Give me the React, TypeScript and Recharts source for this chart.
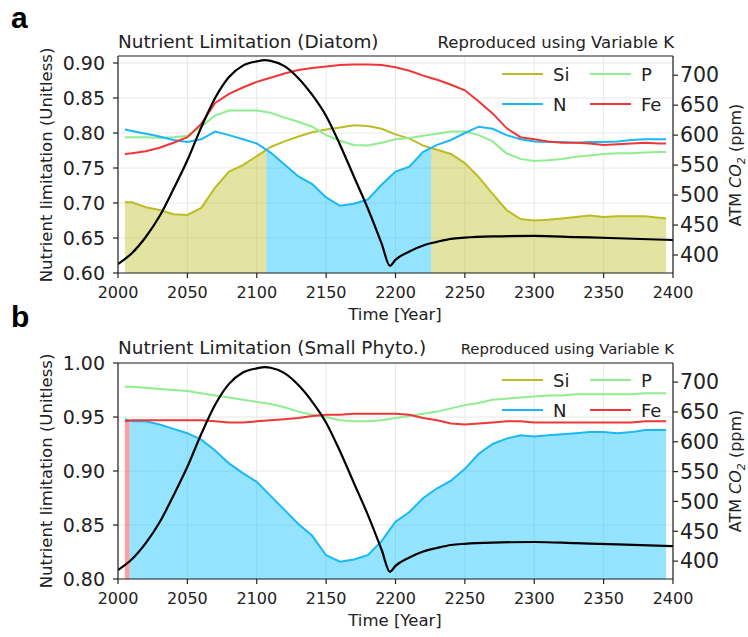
import React from 'react';
import { ComposedChart, Line, Area, XAxis, YAxis, CartesianGrid, ReferenceLine } from 'recharts';

// sample years of the nutrient series (model output starts 2005, ends 2395)
const years = [
  2005, 2010, 2020, 2030, 2040, 2050, 2060, 2070, 2080, 2090, 2100, 2110, 2120, 2130,
  2140, 2150, 2160, 2170, 2180, 2190, 2200, 2210, 2220, 2230, 2240, 2250, 2260, 2270,
  2280, 2290, 2300, 2310, 2320, 2330, 2340, 2350, 2360, 2370, 2380, 2390, 2395,
];

// Diatom
const diatomSi = [
  0.701, 0.701, 0.694, 0.690, 0.684, 0.683, 0.693, 0.722, 0.745, 0.754, 0.767, 0.780, 0.788, 0.795,
  0.801, 0.805, 0.808, 0.811, 0.810, 0.806, 0.798, 0.792, 0.782, 0.776, 0.770, 0.757, 0.737, 0.713,
  0.690, 0.677, 0.675, 0.676, 0.678, 0.680, 0.682, 0.680, 0.681, 0.681, 0.681, 0.679, 0.678,
];
const diatomP = [
  0.794, 0.794, 0.794, 0.793, 0.794, 0.796, 0.809, 0.825, 0.832, 0.832, 0.832, 0.829, 0.822, 0.816,
  0.809, 0.797, 0.789, 0.783, 0.782, 0.786, 0.791, 0.793, 0.796, 0.799, 0.802, 0.802, 0.797, 0.788,
  0.771, 0.763, 0.760, 0.761, 0.763, 0.766, 0.768, 0.770, 0.771, 0.771, 0.772, 0.773, 0.773,
];
const diatomN = [
  0.805, 0.803, 0.799, 0.795, 0.790, 0.787, 0.791, 0.802, 0.797, 0.791, 0.785, 0.772, 0.755, 0.738,
  0.727, 0.708, 0.696, 0.699, 0.705, 0.726, 0.745, 0.752, 0.773, 0.783, 0.790, 0.800, 0.809, 0.806,
  0.797, 0.791, 0.788, 0.787, 0.787, 0.786, 0.787, 0.787, 0.788, 0.790, 0.791, 0.791, 0.791,
];
const diatomFe = [
  0.770, 0.771, 0.774, 0.779, 0.786, 0.794, 0.813, 0.843, 0.856, 0.865, 0.873, 0.879, 0.885, 0.890,
  0.893, 0.895, 0.897, 0.898, 0.898, 0.897, 0.894, 0.889, 0.882, 0.876, 0.869, 0.861, 0.845, 0.828,
  0.807, 0.794, 0.791, 0.788, 0.786, 0.786, 0.785, 0.783, 0.784, 0.785, 0.786, 0.785, 0.785,
];

// Small phytoplankton (no Si limitation)
const smallSi: (number | null)[] = years.map(() => null);
const smallP = [
  0.978, 0.978, 0.977, 0.976, 0.975, 0.974, 0.972, 0.970, 0.968, 0.966, 0.964, 0.962, 0.959, 0.955,
  0.952, 0.950, 0.947, 0.946, 0.946, 0.947, 0.949, 0.951, 0.953, 0.955, 0.958, 0.961, 0.963, 0.966,
  0.967, 0.968, 0.969, 0.970, 0.970, 0.971, 0.971, 0.971, 0.971, 0.971, 0.972, 0.972, 0.972,
];
const smallN = [
  0.948, 0.946, 0.946, 0.943, 0.939, 0.935, 0.929, 0.919, 0.907, 0.898, 0.890, 0.877, 0.864, 0.851,
  0.840, 0.822, 0.816, 0.818, 0.822, 0.835, 0.853, 0.862, 0.875, 0.884, 0.891, 0.902, 0.916, 0.925,
  0.930, 0.933, 0.932, 0.933, 0.934, 0.935, 0.936, 0.936, 0.935, 0.936, 0.938, 0.938, 0.938,
];
const smallFe = [
  0.946, 0.947, 0.947, 0.947, 0.947, 0.947, 0.947, 0.946, 0.945, 0.945, 0.946, 0.947, 0.948, 0.949,
  0.951, 0.952, 0.952, 0.953, 0.953, 0.953, 0.953, 0.952, 0.949, 0.947, 0.944, 0.943, 0.944, 0.945,
  0.946, 0.946, 0.945, 0.945, 0.945, 0.945, 0.945, 0.945, 0.945, 0.945, 0.946, 0.946, 0.946,
];

// atmospheric CO2 (ppm), right axis
const co2Years = [
  2000, 2010, 2020, 2030, 2040, 2050, 2060, 2070, 2080, 2090, 2100, 2106, 2110, 2120, 2130, 2140,
  2150, 2160, 2170, 2180, 2190, 2196, 2200, 2210, 2220, 2230, 2240, 2250, 2270, 2300, 2330, 2360, 2400,
];
const co2Values = [
  385, 403, 430, 465, 510, 558, 613, 662, 697, 716, 723, 725, 724, 715, 695, 667,
  632, 584, 531, 478, 419, 382, 392, 406, 416, 422, 427, 429, 431, 432, 430, 428, 425,
];

const xTicks = [2000, 2050, 2100, 2150, 2200, 2250, 2300, 2350, 2400];
const co2Ticks = [400, 450, 500, 550, 600, 650, 700];

type Key = 'Si' | 'P' | 'N' | 'Fe';
const keys: Key[] = ['Si', 'P', 'N', 'Fe'];
const colors: Record<Key, string> = { Si: '#bcbd22', P: '#90ee90', N: '#1ab8f5', Fe: '#f03636' };
const fillColors: Record<Key, string> = { Si: '#bcbd22', P: '#90ee90', N: '#00bfff', Fe: '#ff1a1a' };

const co2Rows = co2Years.map((year, i) => ({ year, co2: co2Values[i] }));

// rows with the limiting (minimum) nutrient filled; crossing points are inserted
function buildRows(series: Record<Key, (number | null)[]>) {
  const active = keys.filter((k) => series[k].some((v) => v != null));
  const val = (k: Key, i: number) => series[k][i] as number;
  const minKey = (i: number) => active.reduce((b, k) => (val(k, i) < val(b, i) ? k : b), active[0]);
  const rows: any[] = [];
  for (let i = 0; i < years.length; i++) {
    const row: any = { year: years[i] };
    active.forEach((k) => (row[k] = val(k, i)));
    const m = minKey(i);
    row['fill' + m] = val(m, i);
    rows.push(row);
    if (i < years.length - 1) {
      const m2 = minKey(i + 1);
      if (m2 !== m) {
        const d0 = val(m2, i) - val(m, i);
        const d1 = val(m2, i + 1) - val(m, i + 1);
        const t = d0 / (d0 - d1);
        const cross: any = { year: years[i] + t * (years[i + 1] - years[i]) };
        active.forEach((k) => (cross[k] = val(k, i) + t * (val(k, i + 1) - val(k, i))));
        cross['fill' + m] = cross[m];
        cross['fill' + m2] = cross[m];
        rows.push(cross);
      }
    }
  }
  return { rows, active };
}

const diatom = buildRows({ Si: diatomSi, P: diatomP, N: diatomN, Fe: diatomFe });
const small = buildRows({ Si: smallSi, P: smallP, N: smallN, Fe: smallFe });

const font = 'DejaVu Sans, sans-serif';
const ink = '#222';

interface PanelProps {
  top: number;
  height: number;
  data: { rows: any[]; active: Key[] };
  domain: [number, number];
  ticks: number[];
}

const Panel = ({ top, height, data, domain, ticks }: PanelProps) => (
  <div style={{ position: 'absolute', left: 0, top }}>
    <ComposedChart width={748} height={height} data={data.rows} margin={{ top: 56, right: 0, bottom: 17, left: 0 }}>
      <CartesianGrid yAxisId="left" stroke="#e8e8e8" strokeWidth={1} horizontalValues={ticks} verticalValues={xTicks} />
      <XAxis
        dataKey="year"
        type="number"
        domain={[2000, 2400]}
        ticks={xTicks}
        interval={0}
        allowDataOverflow
        height={40}
        tickSize={5}
        tickMargin={9}
        stroke={ink}
        strokeWidth={1.2}
        tick={{ fill: ink, fontSize: 16, fontFamily: font }}
      />
      <YAxis
        yAxisId="left"
        type="number"
        domain={domain}
        ticks={ticks}
        interval={0}
        allowDataOverflow
        width={118}
        tickSize={5}
        tickMargin={8}
        stroke={ink}
        strokeWidth={1.2}
        tickFormatter={(v: number) => v.toFixed(2)}
        tick={{ fill: ink, fontSize: 19, fontFamily: font }}
      />
      <YAxis
        yAxisId="right"
        orientation="right"
        type="number"
        domain={[370, 732]}
        ticks={co2Ticks}
        interval={0}
        allowDataOverflow
        width={75}
        tickSize={5}
        tickMargin={2}
        stroke={ink}
        strokeWidth={1.2}
        tick={{ fill: ink, fontSize: 20.5, fontFamily: font }}
      />
      <ReferenceLine yAxisId="left" y={domain[1]} stroke={ink} strokeWidth={1.2} />
      {data.active.map((k) => (
        <Area
          key={'fill' + k}
          yAxisId="left"
          dataKey={'fill' + k}
          type="linear"
          stroke="none"
          fill={fillColors[k]}
          fillOpacity={0.42}
          baseValue="dataMin"
          isAnimationActive={false}
        />
      ))}
      {data.active.map((k) => (
        <Line
          key={k}
          yAxisId="left"
          dataKey={k}
          type="linear"
          stroke={colors[k]}
          strokeWidth={2}
          dot={false}
          isAnimationActive={false}
        />
      ))}
      <Line
        yAxisId="right"
        data={co2Rows}
        dataKey="co2"
        type="monotone"
        stroke="#000"
        strokeWidth={2.2}
        dot={false}
        isAnimationActive={false}
      />
    </ComposedChart>
  </div>
);

const Legend = ({ y }: { y: number }) => {
  const items: [Key, number, number][] = [
    ['Si', 502, y],
    ['P', 590, y],
    ['N', 502, y + 30],
    ['Fe', 590, y + 30],
  ];
  return (
    <g>
      {items.map(([k, x, yy]) => (
        <g key={k}>
          <line x1={x} x2={x + 41} y1={yy} y2={yy} stroke={colors[k]} strokeWidth={2} />
          <text x={x + 51} y={yy + 6.5} fontSize={18} fontFamily={font} fill={ink}>
            {k}
          </text>
        </g>
      ))}
    </g>
  );
};

const Co2Label = ({ cy }: { cy: number }) => (
  <text transform={`translate(741,${cy}) rotate(-90)`} fontSize={16} fontFamily={font} fill={ink} textAnchor="middle">
    ATM <tspan fontStyle="italic">CO</tspan>
    <tspan fontSize={11} dy={4} fontStyle="italic">2</tspan>
    <tspan dy={-4}> (ppm)</tspan>
  </text>
);

export default function App() {
  return (
    <div style={{ position: 'absolute', left: 0, top: 0, width: 748, height: 637, background: '#fff' }}>
      <Panel top={0} height={330} data={diatom} domain={[0.6, 0.91]} ticks={[0.6, 0.65, 0.7, 0.75, 0.8, 0.85, 0.9]} />
      <Panel top={307} height={329} data={small} domain={[0.8, 1.0]} ticks={[0.8, 0.85, 0.9, 0.95, 1.0]} />
      <svg width={748} height={637} style={{ position: 'absolute', left: 0, top: 0, pointerEvents: 'none' }}>
        <text x={11} y={28} fontSize={30} fontWeight="bold" fontFamily="Liberation Sans, Arial, sans-serif" fill="#000">a</text>
        <text x={11} y={327} fontSize={30} fontWeight="bold" fontFamily="Liberation Sans, Arial, sans-serif" fill="#000">b</text>

        <text x={118} y={48} fontSize={18.4} fontFamily={font} fill={ink}>Nutrient Limitation (Diatom)</text>
        <text x={674} y={48} fontSize={16.5} fontFamily={font} fill={ink} textAnchor="end">Reproduced using Variable K</text>
        <text x={118} y={354} fontSize={18.4} fontFamily={font} fill={ink}>Nutrient Limitation (Small Phyto.)</text>
        <text x={674} y={354} fontSize={14.9} fontFamily={font} fill={ink} textAnchor="end">Reproduced using Variable K</text>

        <text transform="translate(52,165) rotate(-90)" fontSize={16.5} fontFamily={font} fill={ink} textAnchor="middle">Nutrient limitation (Unitless)</text>
        <text transform="translate(52,471) rotate(-90)" fontSize={16.5} fontFamily={font} fill={ink} textAnchor="middle">Nutrient limitation (Unitless)</text>

        <Co2Label cy={165} />
        <Co2Label cy={471} />

        <text x={395} y={320} fontSize={16.5} fontFamily={font} fill={ink} textAnchor="middle">Time [Year]</text>
        <text x={395} y={626} fontSize={16.5} fontFamily={font} fill={ink} textAnchor="middle">Time [Year]</text>

        <Legend y={74} />
        <Legend y={380} />
      </svg>
    </div>
  );
}
